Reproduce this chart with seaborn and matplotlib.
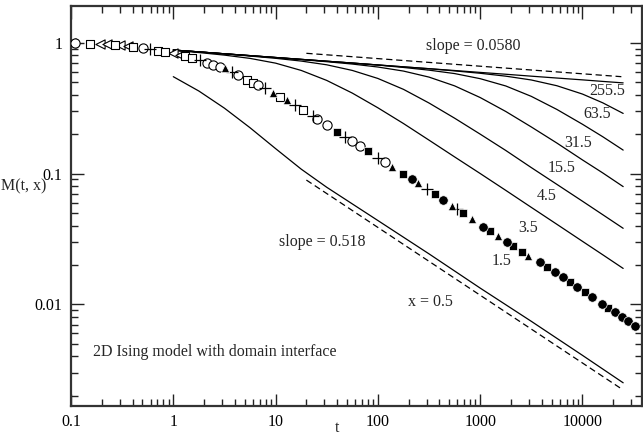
import matplotlib
matplotlib.use("Agg")
import matplotlib.pyplot as plt
import matplotlib.ticker as mticker
import numpy as np
import pandas as pd
import seaborn as sns

# ---------------- data ----------------
t_grid = [1, 1.78, 3.16, 5.62, 10, 17.8, 31.6, 56.2, 100, 178, 316, 562,
          1000, 1780, 3160, 5620, 10000, 15800, 25000]

m_255_5 = [0.879, 0.851, 0.823, 0.797, 0.771, 0.746, 0.722, 0.699, 0.676, 0.654,
           0.633, 0.613, 0.593, 0.574, 0.555, 0.537, 0.520, 0.506, 0.493]
m_63_5 = [0.879, 0.851, 0.823, 0.797, 0.771, 0.746, 0.722, 0.699, 0.676, 0.654,
          0.633, 0.609, 0.584, 0.555, 0.519, 0.469, 0.405, 0.347, 0.288]
m_31_5 = [0.879, 0.851, 0.823, 0.797, 0.771, 0.746, 0.722, 0.699, 0.675, 0.647,
          0.617, 0.581, 0.531, 0.467, 0.389, 0.309, 0.238, 0.191, 0.151]
m_15_5 = [0.879, 0.851, 0.823, 0.795, 0.769, 0.743, 0.716, 0.687, 0.652, 0.607,
          0.546, 0.468, 0.381, 0.298, 0.227, 0.171, 0.127, 0.101, 0.0794]
m_4_5 = [0.879, 0.850, 0.822, 0.791, 0.760, 0.724, 0.678, 0.614, 0.533, 0.440,
         0.346, 0.265, 0.200, 0.150, 0.111, 0.0826, 0.0614, 0.0484, 0.0381]
m_3_5 = [0.875, 0.841, 0.804, 0.759, 0.698, 0.614, 0.515, 0.412, 0.318, 0.241,
         0.180, 0.134, 0.100, 0.0743, 0.0551, 0.0409, 0.0303, 0.0239, 0.0188]

t_x05 = [1, 1.78, 3.16, 5.62, 10, 17.8, 31.6, 100, 316, 1000, 3160, 10000, 25000]
m_x05 = [0.550, 0.427, 0.316, 0.224, 0.155, 0.108, 0.0785, 0.0437, 0.0243,
         0.0133, 0.00741, 0.00407, 0.00251]

# reference power laws (end points of the dashed lines)
t_slope_small = [20, 24000]
m_slope_small = [0.830, 0.550]      # slope = 0.0580
t_slope_big = [20, 24000]
m_slope_big = [0.0891, 0.00226]     # slope = 0.518

# x = 1.5 data collapse (symbols)
mk_t = [0.1, 0.109, 0.153, 0.192, 0.225, 0.269, 0.301, 0.361, 0.404, 0.506,
        0.592, 0.708, 0.830, 1.0, 1.16, 1.30, 1.52, 1.82, 2.13, 2.44,
        2.86, 3.20, 3.75, 4.29, 5.25, 6.01, 6.73, 7.88, 9.44, 11.0,
        12.9, 15.5, 18.5, 23.2, 25.4, 31.8, 39.8, 47.7, 55.8, 66.8,
        80.0, 100, 117, 137, 176, 215, 246, 301, 361, 432,
        529, 593, 678, 830, 1060, 1250, 1490, 1830, 2090, 2560,
        2930, 3840, 4500, 5380, 6450, 7550, 8840, 10600, 12400, 15500,
        17700, 20800, 24300, 27800, 32600]
mk_m = [0.998, 0.995, 0.986, 0.977, 0.977, 0.960, 0.955, 0.944, 0.932, 0.906,
        0.890, 0.869, 0.853, 0.830, 0.805, 0.791, 0.760, 0.738, 0.703, 0.676,
        0.656, 0.637, 0.600, 0.566, 0.519, 0.489, 0.475, 0.448, 0.410, 0.386,
        0.365, 0.334, 0.306, 0.274, 0.262, 0.234, 0.209, 0.191, 0.177, 0.162,
        0.148, 0.132, 0.123, 0.113, 0.100, 0.0906, 0.0845, 0.0760, 0.0692, 0.0630,
        0.0566, 0.0534, 0.0498, 0.0448, 0.0393, 0.0363, 0.0330, 0.0298, 0.0279, 0.0252,
        0.0236, 0.0209, 0.0194, 0.0176, 0.0161, 0.0148, 0.0136, 0.0124, 0.0114, 0.0101,
        0.00944, 0.00871, 0.00802, 0.00747, 0.00687]
mk_kind = ["ltri", "circ", "sq", "ltri", "ltri", "sq", "ltri", "ltri", "sq", "circ",
           "plus", "sq", "sq", "ltri", "ltri", "sq", "sq", "plus", "circ", "circ",
           "circ", "ftri", "plus", "circ", "sq", "sq", "circ", "plus", "ftri", "sq",
           "ftri", "plus", "sq", "plus", "circ", "circ", "fsq", "plus", "circ", "circ",
           "fsq", "plus", "circ", "ftri", "fsq", "fcirc", "ftri", "plus", "fsq", "fcirc",
           "ftri", "plus", "fsq", "ftri", "fcirc", "fsq", "ftri", "fcirc", "fsq", "fsq",
           "ftri", "fcirc", "fsq", "fcirc", "fcirc", "fsq", "fcirc", "fsq", "fcirc", "fcirc",
           "fsq", "fcirc", "fcirc", "fcirc", "fcirc"]

curve_labels = ["255.5", "63.5", "31.5", "15.5", "4.5", "3.5", "1.5", "x = 0.5"]
label_t = [17600, 13900, 9060, 6310, 4500, 2930, 1630, 323]
label_m = [0.428, 0.285, 0.171, 0.110, 0.0673, 0.0383, 0.0214, 0.0104]

# ---------------- plotting ----------------
sns.set_theme(style="ticks")
plt.rcParams["font.family"] = ["Liberation Serif", "DejaVu Serif"]

fig = plt.figure(figsize=(6.43, 4.38), dpi=100)
ax = fig.add_axes([71 / 643, 1 - 406 / 438, 571 / 643, 400 / 438])
ax.set_xscale("log")
ax.set_yscale("log")

curves = [m_255_5, m_63_5, m_31_5, m_15_5, m_4_5, m_3_5]
for m in curves:
    df = pd.DataFrame({"t": t_grid, "M": m})
    sns.lineplot(data=df, x="t", y="M", ax=ax, color="black", linewidth=0.9,
                 estimator=None, sort=False)
df = pd.DataFrame({"t": t_x05, "M": m_x05})
sns.lineplot(data=df, x="t", y="M", ax=ax, color="black", linewidth=0.9,
             estimator=None, sort=False)

for tt, mm in [(t_slope_small, m_slope_small), (t_slope_big, m_slope_big)]:
    df = pd.DataFrame({"t": tt, "M": mm})
    sns.lineplot(data=df, x="t", y="M", ax=ax, color="black", linewidth=0.9,
                 linestyle=(0, (5, 3)), estimator=None, sort=False)

mk = pd.DataFrame({"t": mk_t, "M": mk_m, "kind": mk_kind})
styles = {
    "ltri": dict(marker="<", s=44, facecolor="white", edgecolor="black", linewidth=0.8),
    "sq": dict(marker="s", s=34, facecolor="white", edgecolor="black", linewidth=0.8),
    "circ": dict(marker="o", s=44, facecolor="white", edgecolor="black", linewidth=0.8),
    "plus": dict(marker="+", s=70, color="black", linewidth=0.9),
    "ftri": dict(marker="^", s=36, color="black", linewidth=0.5),
    "fsq": dict(marker="s", s=30, color="black", linewidth=0.5),
    "fcirc": dict(marker="o", s=46, color="black", linewidth=0.5),
}
for kind, st in styles.items():
    sub = mk[mk["kind"] == kind]
    sns.scatterplot(data=sub, x="t", y="M", ax=ax, legend=False, zorder=3, **st)

ax.set_xlim(0.1, 3.82e4)
ax.set_ylim(0.001668, 1.909)

fs = 11.5
for lab, tx, my in zip(curve_labels, label_t, label_m):
    ax.text(tx, my, lab, fontsize=fs, ha="center", va="center")
ax.text(851, 0.952, "slope = 0.0580", fontsize=fs, ha="center", va="center")
ax.text(28.5, 0.0302, "slope = 0.518", fontsize=fs, ha="center", va="center")
ax.text(0.164, 0.00432, "2D Ising model with domain interface", fontsize=fs,
        ha="left", va="center")

ax.xaxis.set_major_locator(mticker.LogLocator(base=10, numticks=20))
ax.xaxis.set_minor_locator(mticker.LogLocator(base=10, subs=np.arange(2, 10), numticks=20))
ax.yaxis.set_major_locator(mticker.LogLocator(base=10, numticks=20))
ax.yaxis.set_minor_locator(mticker.LogLocator(base=10, subs=np.arange(2, 10), numticks=20))
ax.xaxis.set_major_formatter(mticker.FuncFormatter(lambda v, p: f"{v:g}" if v < 1 else f"{v:.0f}"))
ax.yaxis.set_major_formatter(mticker.FuncFormatter(lambda v, p: f"{v:g}"))
ax.xaxis.set_minor_formatter(mticker.NullFormatter())
ax.yaxis.set_minor_formatter(mticker.NullFormatter())

ax.tick_params(which="both", direction="in", top=True, right=True, colors="#222222",
               labelsize=fs, labelcolor="black")
ax.tick_params(which="major", length=9, width=1.0, pad=6)
ax.tick_params(which="minor", length=5, width=1.0)
for sp in ax.spines.values():
    sp.set_linewidth(1.6)
    sp.set_color("#333333")

ax.set_xlabel("t", fontsize=fs)
ax.xaxis.set_label_coords(0.466, -0.035)
ax.xaxis.label.set_va("top")
ax.set_ylabel("M(t, x)", fontsize=fs, rotation=0, ha="center", va="center")
ax.yaxis.set_label_coords(-0.082, 0.548)

fig.savefig("out.png", dpi=100)
